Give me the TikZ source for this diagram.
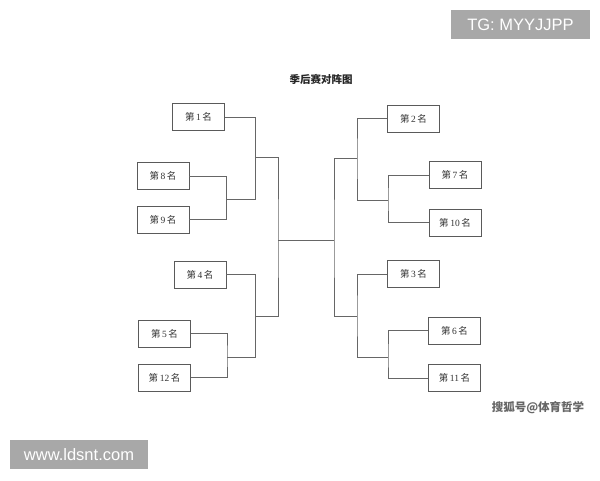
\documentclass[tikz,border=0pt]{standalone}
\usepackage{fontspec}
\setmainfont{Liberation Serif}
\newfontfamily\cjk{Noto Sans CJK SC}
\newfontfamily\wmsans{Liberation Sans}
\definecolor{linegray}{HTML}{666666}
\definecolor{boxgray}{HTML}{5A5A5A}
\definecolor{txtgray}{HTML}{333333}
\definecolor{tagbg}{HTML}{A8A8A8}
\newcommand{\rankname}[1]{{\cjk 第}\,#1\,{\cjk 名}}
\begin{document}
\begin{tikzpicture}[x=1pt,y=-1pt,
  rankbox/.style={draw=boxgray,line width=0.9pt,fill=white,minimum width=52pt,minimum height=27pt,inner sep=0pt,font=\fontsize{9.5}{10}\selectfont,text=txtgray},
  wire/.style={draw=linegray,line width=1pt},
  tag/.style={fill=tagbg,text=white,inner sep=0pt,font=\wmsans\fontsize{16.5}{18}\selectfont}]
\useasboundingbox (0,0) rectangle (600,480);
\fill[white] (0,0) rectangle (600,480);

% title
\node[font=\cjk\bfseries\fontsize{10.5}{12}\selectfont,text=black!85] (title) at (321,79) {季后赛对阵图};

% left boxes
\node[rankbox] (b1) at (198.5,117) {\rankname{1}};
\node[rankbox] (b8) at (163,176) {\rankname{8}};
\node[rankbox] (b9) at (163,219.5) {\rankname{9}};
\node[rankbox] (b4) at (200,274.5) {\rankname{4}};
\node[rankbox] (b5) at (164.5,333.5) {\rankname{5}};
\node[rankbox] (b12) at (164.5,377.5) {\rankname{12}};
% right boxes
\node[rankbox] (b2) at (413.5,118.5) {\rankname{2}};
\node[rankbox] (b7) at (455,175) {\rankname{7}};
\node[rankbox] (b10) at (455,222.5) {\rankname{10}};
\node[rankbox] (b3) at (413.5,274) {\rankname{3}};
\node[rankbox] (b6) at (454.5,330.5) {\rankname{6}};
\node[rankbox] (b11) at (454.5,378) {\rankname{11}};

% junctions
\coordinate (j89) at (226.5,199);
\coordinate (j1) at (255.5,157);
\coordinate (j512) at (227,357);
\coordinate (j4) at (255.5,316);
\coordinate (cl) at (278,240);
\coordinate (cr) at (334,240);
\coordinate (j710) at (388,200);
\coordinate (jr2) at (357,158);
\coordinate (j611) at (388,357);
\coordinate (jr3) at (357,316);

% left bracket
\draw[wire] (b8.east) -| (j89) |- (b9.east);
\draw[wire] (b1.east) -| (j1) |- (j89);
\draw[wire] (b5.east) -| (j512) |- (b12.east);
\draw[wire] (b4.east) -| (j4) |- (j512);
\draw[wire] (j1) -| (cl) |- (j4);
% centre
\draw[wire] (cl) -- (cr);
% right bracket
\draw[wire] (b7.west) -| (j710) |- (b10.west);
\draw[wire] (b2.west) -| (jr2) |- (j710);
\draw[wire] (b6.west) -| (j611) |- (b11.west);
\draw[wire] (b3.west) -| (jr3) |- (j611);
\draw[wire] (jr2) -| (cr) |- (jr3);

% watermarks
\node[font=\cjk\bfseries\fontsize{11.5}{13}\selectfont,text=black!60] (wm) at (538,408) {搜狐号@体育哲学};
\node[tag,minimum width=139pt,minimum height=29pt] (tg) at (520.5,24.5) {TG: MYYJJPP};
\node[tag,minimum width=138pt,minimum height=29pt] (www) at (79,454.5) {www.ldsnt.com};
\end{tikzpicture}
\end{document}
